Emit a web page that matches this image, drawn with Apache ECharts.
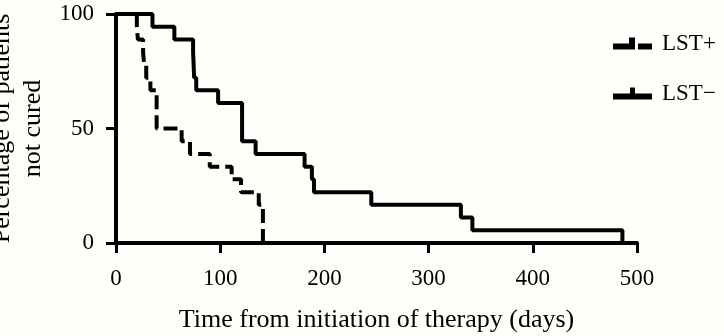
<!DOCTYPE html>
<html>
<head>
<meta charset="utf-8">
<script src="https://cdn.jsdelivr.net/npm/echarts@6/dist/echarts.min.js"></script>
<style>
  html, body { margin: 0; padding: 0; background: #fefefb; }
  #chart { width: 724px; height: 336px; }
</style>
</head>
<body>
<div id="chart"></div>
<script>
// Kaplan-Meier data (day, % not cured)
var lstPlusDays = [0, 20, 21, 26, 27, 29, 33, 39, 63, 71, 90, 111, 120, 137, 141]
var lstPlusPct = [100, 94.4, 88.9, 83.3, 77.8, 72.2, 66.7, 50, 44.4, 38.9, 33.3, 27.8, 22.2, 16.7, 0]

var lstMinusDays = [0, 35, 56, 74, 75, 77, 98, 121, 134, 181, 188, 190, 245, 331, 342, 486]
var lstMinusPct = [100, 94.4, 88.9, 83.3, 72.2, 66.7, 61.1, 44.4, 38.9, 33.3, 27.8, 22.2, 16.7, 11.1, 5.6, 0]

var seriesNames = ['LST+', 'LST\u2212']
var xTicks = [0, 100, 200, 300, 400, 500]
var yTicks = [0, 50, 100]

var font = 'Liberation Serif'

var toPairs = (xs, ys) => xs.map((x, i) => [x, ys[i]])

var chart = echarts.init(document.getElementById('chart'), null, {renderer: 'canvas'})

chart.setOption({
    backgroundColor: '#fefefb',
    animation: false,
    textStyle: {fontFamily: font},
    grid: {
        left: 116,
        right: 87,
        top: 14,
        bottom: 93,
        containLabel: false,
        outerBoundsMode: 'none'
    },
    legend: {
        orient: 'vertical',
        left: 608,
        top: 27,
        itemGap: 27,
        itemWidth: 39,
        itemHeight: 12,
        textStyle: {
            fontFamily: font,
            fontSize: 23,
            color: '#000',
            padding: [0, 0, 0, 5]
        },
        data: [
            {name: seriesNames[0], icon: 'path://M0,6H22V12H0Z M16,0H22V6H16Z M25,6H39V12H25Z', itemStyle: {color: '#000', borderWidth: 0}},
            {name: seriesNames[1], icon: 'path://M0,6H39V12H0Z M17,0H22V6H17Z', itemStyle: {color: '#000', borderWidth: 0}}
        ]
    },
    xAxis: {
        type: 'value',
        min: xTicks[0],
        max: xTicks[xTicks.length - 1],
        interval: 100,
        name: 'Time from initiation of therapy (days)',
        nameLocation: 'middle',
        nameGap: 64,
        nameTextStyle: {fontFamily: font, fontSize: 26, color: '#000'},
        axisLine: {lineStyle: {color: '#000', width: 4}},
        axisTick: {length: 10, lineStyle: {color: '#000', width: 3}},
        axisLabel: {fontFamily: font, fontSize: 23, color: '#000', margin: 24},
        splitLine: {show: false}
    },
    yAxis: {
        type: 'value',
        min: yTicks[0],
        max: yTicks[yTicks.length - 1],
        interval: 50,
        name: 'Percentage of patients\nnot cured',
        nameLocation: 'middle',
        nameRotate: 90,
        nameGap: 58,
        nameTextStyle: {fontFamily: font, fontSize: 26, color: '#000', lineHeight: 31},
        axisLine: {show: true, lineStyle: {color: '#000', width: 4}},
        axisTick: {show: true, length: 10, lineStyle: {color: '#000', width: 3}},
        axisLabel: {fontFamily: font, fontSize: 23, color: '#000', margin: 22},
        splitLine: {show: false}
    },
    series: [
        {
            name: seriesNames[0],
            type: 'line',
            step: 'end',
            symbol: 'none',
            color: '#000',
            lineStyle: {color: '#000', width: 4, type: [14, 6]},
            data: toPairs(lstPlusDays, lstPlusPct)
        },
        {
            name: seriesNames[1],
            type: 'line',
            step: 'end',
            symbol: 'none',
            color: '#000',
            lineStyle: {color: '#000', width: 4},
            data: toPairs(lstMinusDays, lstMinusPct)
        }
    ]
})
</script>
</body>
</html>
